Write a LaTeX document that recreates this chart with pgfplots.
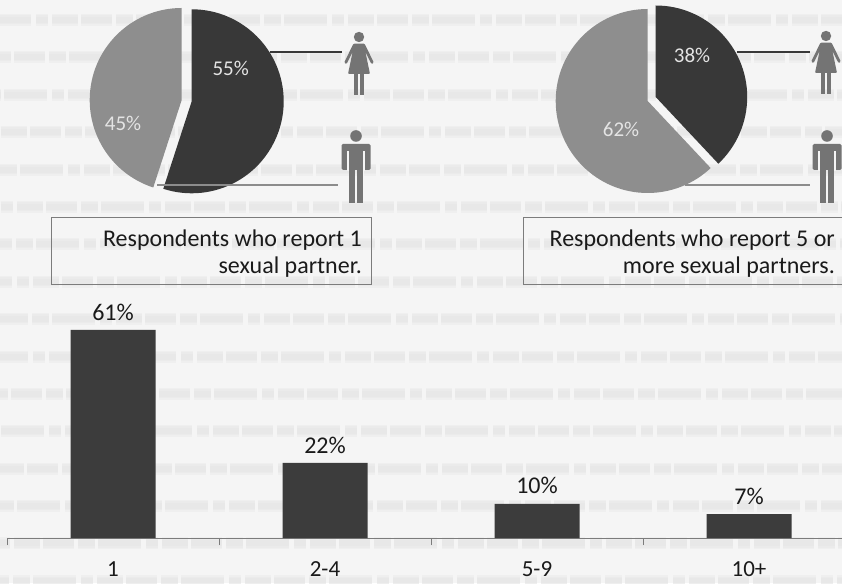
\documentclass[border=0pt]{standalone}
\usepackage{pgfplots}
\pgfplotsset{compat=1.18}
\usepackage{fontspec}
\setmainfont{Carlito}

\definecolor{paper}{HTML}{F5F5F5}
\definecolor{ghost}{HTML}{DEDEDE}
\definecolor{darkslice}{HTML}{383838}
\definecolor{lightslice}{HTML}{8E8E8E}
\definecolor{barfill}{HTML}{3C3C3C}
\definecolor{figure}{HTML}{747474}
\definecolor{rule}{HTML}{7C7C7C}
\definecolor{labeltext}{HTML}{1A1A1A}
\definecolor{slicetext}{HTML}{E4E4E4}

% One wedge of a pie: centre x, centre y, radius, signed share in percent, colour.
% The wedge starts at twelve o'clock; a negative share sweeps clockwise.
\newcommand{\pieslice}[5]{%
  \fill[#5] (axis cs:#1,#2) -- ++(90:#3pt)
    arc[start angle=90,delta angle=#4*3.6,radius=#3pt] -- cycle;}

% Pictograms, origin at the centre of the head, y running downwards.
\newcommand{\womanicon}[2]{%
  \begin{scope}[shift={(#1,#2)}]
    \fill[figure] (0,0) circle (5.2);
    \fill[figure,rounded corners=1pt] (-5.5,6.6) -- (5.5,6.6) -- (14.8,25.5) -- (12.6,27.2)
      -- (6.4,15) -- (11,37) -- (-11,37) -- (-6.4,15) -- (-12.6,27.2) -- (-14.8,25.5) -- cycle;
    \fill[figure] (-5.4,36) rectangle (-1,58.5);
    \fill[figure] (1,36) rectangle (5.4,58.5);
  \end{scope}}
\newcommand{\manicon}[2]{%
  \begin{scope}[shift={(#1,#2)}]
    \fill[figure] (0,0) circle (5.8);
    \fill[figure,rounded corners=1.5pt] (-14.5,8) rectangle (14.5,34);
    \fill[paper] (-9.2,15) rectangle (-7.4,35);
    \fill[paper] (7.4,15) rectangle (9.2,35);
    \fill[figure] (-7.4,30) rectangle (-0.8,67);
    \fill[figure] (0.8,30) rectangle (7.4,67);
  \end{scope}}

\begin{document}
\begin{tikzpicture}[x=1pt,y=1pt]
  \path[use as bounding box] (0,0) rectangle (842,583);
  \clip (0,0) rectangle (842,583);
  \fill[paper] (0,0) rectangle (842,583);

  % Faint rows of print showing through the paper, soft-edged by stacking widths
  \foreach \row [count=\n] in {20,57,95,132,170,207,244,282,319,357,394,431,469,506,543,581} {
    \pgfmathsetmacro{\offs}{mod(\n*67,150)}
    \foreach \w in {12,9,6} {
      \draw[ghost,opacity=0.22,line width=\w pt,
        dash pattern=on 31pt off 4pt on 17pt off 3pt on 43pt off 5pt on 12pt off 4pt on 26pt off 3pt,
        dash phase=\offs pt]
        (0,583-\row) -- (842,583-\row);
    }
  }

  % Share of respondents by number of partners
  \begin{axis}[
      at={(7pt,45pt)},anchor=south west,
      scale only axis,width=848pt,height=238.7pt,
      ybar,bar width=85pt,
      xmin=-0.5,xmax=3.5,ymin=0,ymax=70,
      axis x line=bottom,axis y line=none,
      axis line style={draw=rule,line width=0.8pt,-},
      xtick={0,1,2,3},
      xticklabels={1,2-4,5-9,10+},
      minor xtick={-0.5,0.5,1.5,2.5,3.5},
      major tick length=0pt,
      tick align=outside,
      minor tick length=7pt,
      minor tick style={draw=rule,line width=0.6pt},
      xticklabel style={font=\fontsize{23}{27}\selectfont,text=labeltext,
        anchor=center,yshift=-31pt},
      /pgf/number format/assume math mode=true,
      nodes near coords={\pgfmathprintnumber{\pgfplotspointmeta}\%},
      every node near coord/.append style={font=\fontsize{24}{28}\selectfont,
        text=labeltext,inner sep=0pt,anchor=center,yshift=18pt},
    ]
    \addplot[fill=barfill,draw=none] coordinates {(0,61) (1,22) (2,10) (3,7)};
  \end{axis}

  % The two pies, positioned on a page-sized axis with y running downwards
  \begin{axis}[
      at={(0pt,0pt)},anchor=south west,
      scale only axis,width=842pt,height=583pt,
      xmin=0,xmax=842,ymin=0,ymax=583,y dir=reverse,
      hide axis,
    ]
    \pieslice{181.7}{100}{92}{45}{lightslice}
    \pieslice{191.7}{101.3}{92}{-55}{darkslice}
    \pieslice{647.7}{101}{92}{62}{lightslice}
    \pieslice{655.7}{97}{91.5}{-38}{darkslice}
    \node[text=slicetext,font=\fontsize{21}{25}\selectfont] at (axis cs:230.7,68) {55\%};
    \node[text=slicetext,font=\fontsize{21}{25}\selectfont] at (axis cs:123,123) {45\%};
    \node[text=slicetext,font=\fontsize{21}{25}\selectfont] at (axis cs:692,55) {38\%};
    \node[text=slicetext,font=\fontsize{21}{25}\selectfont] at (axis cs:621,129) {62\%};
  \end{axis}

  % Callout lines, pictograms and captions, placed from the top-left corner
  \begin{scope}[shift={(0pt,583pt)},y=-1pt]
    \draw[darkslice,line width=1.3pt] (270,52) -- (342,52);
    \draw[darkslice,line width=1.3pt] (737,52) -- (810,52);
    \draw[black!45,line width=1.2pt] (157,185) -- (338,185);
    \draw[black!45,line width=1.2pt] (685,185) -- (810,185);
    \womanicon{359}{37}
    \manicon{356}{136}
    \womanicon{826}{36}
    \manicon{827}{136}
    \draw[rule,line width=0.8pt] (51,217) rectangle (371,284);
    \draw[rule,line width=0.8pt] (523,217) rectangle (860,284);
    \node[anchor=base east,inner sep=0pt,text=labeltext,font=\fontsize{24}{28}\selectfont] at (362,247) {Respondents who report 1};
    \node[anchor=base east,inner sep=0pt,text=labeltext,font=\fontsize{24}{28}\selectfont] at (362,274) {sexual partner.};
    \node[anchor=base east,inner sep=0pt,text=labeltext,font=\fontsize{24}{28}\selectfont] at (835,247) {Respondents who report 5 or};
    \node[anchor=base east,inner sep=0pt,text=labeltext,font=\fontsize{24}{28}\selectfont] at (835,274) {more sexual partners.};
  \end{scope}
\end{tikzpicture}
\end{document}
